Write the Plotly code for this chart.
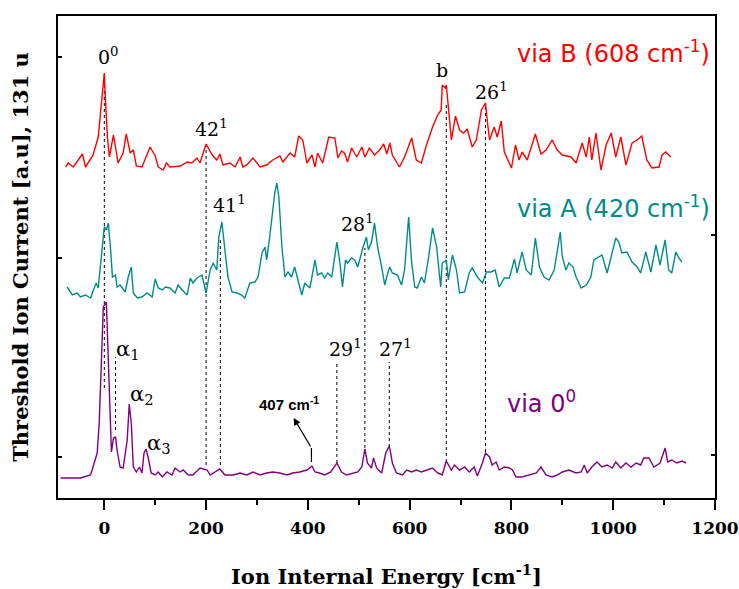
import plotly.graph_objects as go

# ---------------- data ----------------
# via B (608 cm-1) trace : energy [cm-1], stacked intensity [a.u.]
e_B = [-76, -71, -61, -43, -37, -22, -12, 0, 2, 6, 10, 18, 24, 27, 37, 43, 51, 57, 63, 74,
       90, 100, 106, 116, 122, 129, 149, 163, 172, 182, 188, 200, 212, 221, 227, 233, 247, 257,
       267, 272, 280, 292, 306, 319, 331, 345, 351, 365, 374, 382, 390, 398, 408, 414, 419, 429,
       441, 453, 459, 466, 472, 478, 486, 496, 506, 512, 521, 531, 541, 549, 555, 561, 566, 580,
       590, 604, 613, 623, 633, 645, 655, 662, 664, 670, 672, 676, 682, 690, 698, 706, 713, 723,
       731, 741, 749, 753, 757, 766, 772, 780, 786, 800, 808, 815, 821, 831, 847, 858, 868, 880,
       890, 900, 917, 927, 939, 947, 953, 958, 966, 976, 986, 996, 1005, 1015, 1025, 1037, 1047,
       1056, 1066, 1076, 1090, 1096, 1103, 1113]
i_B = [331, 335, 331, 344, 331, 343, 361, 425, 401, 361, 341, 363, 345, 335, 345, 364, 345, 348,
       332, 331, 351, 342, 331, 328, 335, 331, 332, 336, 335, 340, 335, 354, 343, 338, 344, 333,
       335, 331, 341, 331, 333, 340, 331, 333, 338, 342, 336, 345, 341, 362, 358, 335, 343, 331,
       345, 335, 361, 360, 340, 347, 345, 336, 350, 341, 351, 341, 350, 343, 348, 354, 344, 355,
       343, 331, 341, 360, 338, 335, 353, 371, 383, 388, 413, 410, 413, 391, 358, 382, 368, 365,
       369, 351, 358, 388, 395, 375, 358, 371, 361, 377, 346, 330, 353, 338, 346, 338, 364, 344,
       348, 358, 348, 343, 341, 335, 355, 341, 361, 338, 365, 328, 353, 365, 341, 361, 333, 355,
       358, 362, 338, 330, 331, 343, 346, 341]

# via A (420 cm-1) trace
e_A = [-73, -63, -53, -47, -37, -27, -22, -16, -12, -4, 0, 4, 8, 12, 16, 22, 25, 31, 41, 47,
       53, 57, 65, 74, 84, 94, 100, 106, 114, 120, 129, 139, 145, 153, 163, 169, 174, 182, 192,
       200, 208, 214, 221, 225, 231, 237, 243, 251, 261, 270, 276, 286, 296, 302, 310, 316, 319,
       325, 335, 339, 343, 349, 355, 361, 368, 374, 380, 388, 394, 404, 414, 419, 427, 433, 439,
       447, 457, 463, 468, 474, 478, 486, 492, 498, 508, 515, 519, 525, 531, 537, 545, 551, 557,
       561, 566, 576, 584, 590, 598, 604, 610, 615, 623, 629, 637, 645, 653, 661, 664, 672, 676,
       684, 692, 698, 708, 717, 723, 733, 743, 751, 760, 768, 776, 786, 796, 806, 811, 821, 829,
       839, 847, 855, 864, 874, 884, 890, 896, 900, 907, 913, 921, 927, 937, 947, 956, 962, 968,
       978, 988, 998, 1005, 1011, 1017, 1027, 1037, 1047, 1054, 1064, 1074, 1084, 1092, 1102,
       1109, 1115, 1123, 1129, 1135]
i_A = [211, 203, 205, 201, 203, 200, 207, 215, 210, 248, 271, 268, 275, 251, 221, 223, 211, 213,
       206, 221, 231, 205, 200, 201, 205, 201, 219, 210, 208, 211, 210, 205, 213, 208, 203, 220,
       215, 220, 223, 205, 228, 235, 228, 261, 276, 248, 221, 206, 205, 203, 200, 215, 216, 221,
       245, 251, 238, 261, 305, 315, 301, 251, 221, 226, 221, 231, 218, 203, 215, 210, 238, 223,
       225, 220, 225, 221, 256, 235, 211, 238, 235, 240, 238, 231, 250, 261, 248, 256, 275, 251,
       231, 213, 225, 231, 225, 223, 213, 228, 281, 235, 211, 210, 221, 215, 240, 270, 251, 211,
       235, 238, 218, 243, 228, 205, 206, 225, 230, 221, 215, 226, 226, 228, 211, 220, 220, 239,
       225, 246, 228, 223, 260, 231, 221, 218, 228, 245, 266, 241, 228, 235, 231, 221, 210, 213,
       221, 238, 240, 243, 225, 246, 260, 256, 245, 246, 236, 231, 225, 246, 226, 253, 233, 258,
       228, 225, 246, 240, 236]

# via 0^0 trace
e_0 = [-86, -47, -27, -22, -14, -10, -4, -2, 4, 6, 10, 14, 18, 22, 25, 31, 37, 45, 49, 53, 57,
       63, 69, 74, 78, 82, 86, 92, 100, 106, 114, 123, 133, 139, 149, 155, 165, 174, 188, 202,
       208, 218, 227, 237, 253, 267, 280, 292, 306, 319, 331, 345, 359, 370, 384, 398, 408, 414,
       423, 433, 445, 457, 466, 476, 488, 498, 506, 512, 517, 525, 529, 535, 545, 553, 559, 561,
       566, 574, 586, 594, 604, 613, 623, 633, 645, 655, 664, 672, 682, 688, 698, 708, 717, 727,
       733, 743, 749, 757, 762, 770, 776, 786, 796, 802, 809, 821, 835, 849, 858, 868, 880, 890,
       900, 913, 927, 937, 943, 949, 958, 968, 978, 988, 998, 1005, 1015, 1025, 1035, 1045, 1054,
       1060, 1070, 1080, 1092, 1098, 1102, 1107, 1115, 1125, 1135, 1143]
i_0 = [20, 20, 23, 31, 45, 75, 158, 191, 196, 168, 91, 46, 60, 61, 48, 31, 30, 58, 94, 75, 31,
       26, 31, 25, 45, 49, 41, 25, 23, 26, 21, 26, 23, 30, 26, 28, 23, 23, 30, 28, 23, 26, 29, 23,
       23, 25, 23, 26, 23, 25, 26, 25, 23, 25, 26, 28, 32, 26, 25, 23, 26, 35, 26, 23, 25, 26, 31,
       49, 35, 30, 40, 30, 25, 45, 51, 50, 35, 25, 23, 28, 26, 28, 26, 28, 30, 25, 23, 37, 28, 33,
       28, 31, 26, 31, 22, 35, 45, 41, 33, 36, 28, 31, 30, 28, 21, 21, 23, 25, 31, 23, 21, 23, 26,
       28, 25, 26, 33, 25, 31, 36, 31, 33, 30, 36, 30, 35, 31, 35, 33, 40, 40, 31, 35, 43, 50, 36,
       38, 35, 37, 35]

# dotted assignment lines: energy, lower and upper intensity
line_e = [0, 22, 200, 228, 457, 512, 560, 672, 749]
line_lo = [110, 68, 33, 33, 35, 50, 51, 36, 46]
line_hi = [423, 141, 353, 261, 136, 250, 136, 393, 391]

# peak labels: text, energy, intensity, font size
label_text = ["0<sup>0</sup>", "42<sup>1</sup>", "b", "26<sup>1</sup>", "41<sup>1</sup>",
              "28<sup>1</sup>", "29<sup>1</sup>", "27<sup>1</sup>",
              "α<sub>1</sub>", "α<sub>2</sub>", "α<sub>3</sub>"]
label_e = [8, 210, 664, 760, 246, 498, 474, 572, 46, 74, 108]
label_i = [442, 370, 428, 407, 294, 275, 150, 150, 148, 103, 54]
label_size = [19, 19, 19, 19, 19, 19, 19, 19, 21, 21, 21]

series_names = ["via B (608 cm<sup>-1</sup>)", "via A (420 cm<sup>-1</sup>)", "via 0<sup>0</sup>"]
series_colors = ["#ff0000", "#008b8b", "#800080"]
name_e = [1194, 1194, 860]
name_i = [446, 291, 96]

x_ticks = [0, 200, 400, 600, 800, 1000, 1200]
left_ticks = [441, 240, 41]
right_ticks = [263, 43]

# ---------------- figure ----------------
fig = go.Figure()
for ex, iy, nm, col in zip([e_B, e_A, e_0], [i_B, i_A, i_0], series_names, series_colors):
    fig.add_trace(go.Scatter(x=ex, y=iy, mode="lines", name=nm,
                             line=dict(color=col, width=1.4), showlegend=False))

# invisible trace so that the right-hand axis is drawn
fig.add_trace(go.Scatter(x=[e_0[0]], y=[i_0[0]], yaxis="y2", mode="lines",
                         line=dict(width=0), showlegend=False, hoverinfo="skip"))

for xe, y0, y1 in zip(line_e, line_lo, line_hi):
    fig.add_shape(type="line", x0=xe, x1=xe, y0=y0, y1=y1, xref="x", yref="y",
                  line=dict(color="black", width=1, dash="dot"), layer="below")

serif = "DejaVu Serif"
for t, xe, yi, sz in zip(label_text, label_e, label_i, label_size):
    fig.add_annotation(x=xe, y=yi, text=t, showarrow=False, xref="x", yref="y",
                       font=dict(family=serif, size=sz, color="black"))

for t, xe, yi, col in zip(series_names, name_e, name_i, series_colors):
    fig.add_annotation(x=xe, y=yi, text=t, showarrow=False, xref="x", yref="y",
                       xanchor="right" if xe > 1000 else "center",
                       font=dict(family="DejaVu Sans", size=24, color=col))

# 407 cm-1 marker
fig.add_annotation(x=362, y=95, text="<b>407 cm<sup>-1</sup></b>", showarrow=False,
                   xref="x", yref="y", font=dict(family="Liberation Sans", size=15, color="black"))
fig.add_shape(type="line", x0=407, x1=407, y0=36, y1=50, xref="x", yref="y",
              line=dict(color="black", width=1.2))
fig.add_annotation(x=372, y=80, ax=407, ay=50, xref="x", yref="y", axref="x", ayref="y",
                   text="", showarrow=True, arrowhead=2, arrowsize=1.2, arrowwidth=1.2,
                   arrowcolor="black")

fig.update_layout(
    width=739, height=589,
    margin=dict(l=58, r=24, t=16, b=91),
    paper_bgcolor="white", plot_bgcolor="white",
    xaxis=dict(range=[-91, 1200], tickvals=x_ticks, ticks="outside", ticklen=10, tickwidth=1.5,
               tickcolor="black", showline=True, linecolor="black", linewidth=2, mirror=True,
               showgrid=False, zeroline=False, automargin=False, ticklabelstandoff=4,
               minor=dict(dtick=100, tick0=0, ticks="outside", ticklen=5, tickwidth=1.5,
                          tickcolor="black"),
               tickfont=dict(family=serif, size=17, color="black", weight="bold"),
               title=dict(text="<b>Ion Internal Energy [cm<sup>-1</sup>]</b>",
                          font=dict(family=serif, size=21, color="black"), standoff=32)),
    yaxis=dict(range=[0, 482], tickvals=left_ticks, ticks="inside", ticklen=4, tickwidth=1.5,
               tickcolor="black", showticklabels=False, showline=True, linecolor="black",
               linewidth=2, mirror=True, showgrid=False, zeroline=False, automargin=False,
               title=dict(text="<b>Threshold Ion Current [a.u], 131 u</b>",
                          font=dict(family=serif, size=21, color="black"), standoff=22)),
    yaxis2=dict(range=[0, 482], overlaying="y", side="right", tickvals=right_ticks,
                ticks="inside", ticklen=4, tickwidth=1.5, tickcolor="black", automargin=False,
                showticklabels=False, showline=False, showgrid=False, zeroline=False),
)

fig.write_html("out.html")
